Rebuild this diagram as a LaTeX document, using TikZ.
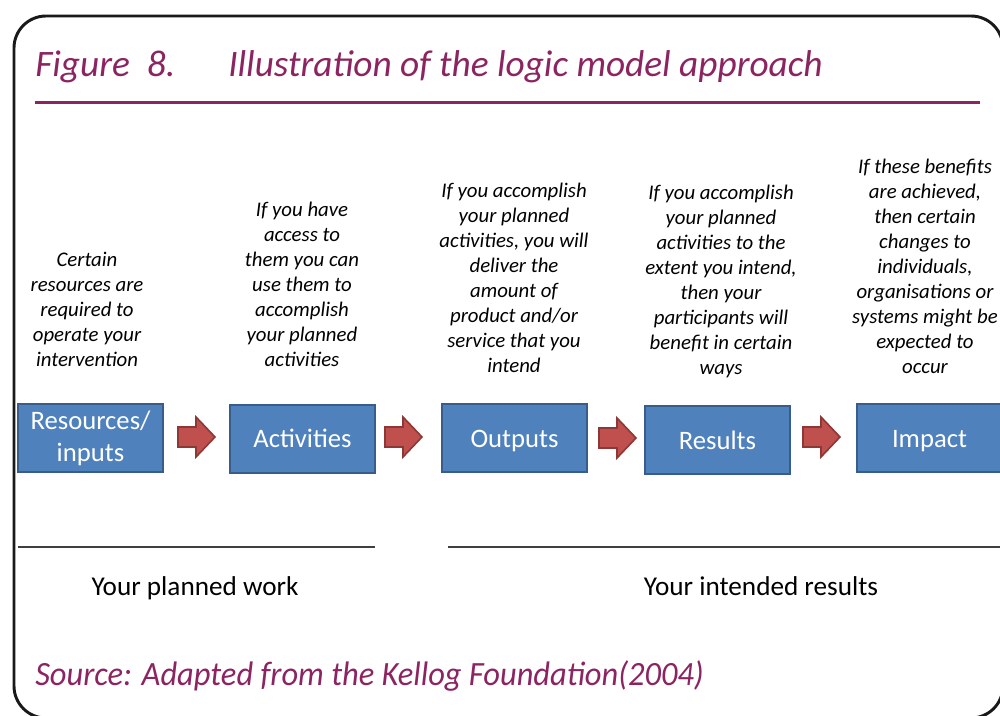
\documentclass[tikz,border=0pt]{standalone}
\usepackage{fontspec}
\usepackage{graphicx}
\setmainfont{Carlito}
\usetikzlibrary{calc}
\definecolor{ecpurple}{HTML}{8C2461}
\definecolor{boxblue}{HTML}{4F81BD}
\definecolor{boxedge}{HTML}{385D8A}
\definecolor{arrred}{HTML}{C0504D}
\definecolor{arredge}{HTML}{8C3836}
\definecolor{rulegray}{HTML}{3F3F3F}
\tikzset{
  stagebox/.style={draw=boxedge, line width=1.5pt, fill=boxblue, text=white,
    minimum width=108.75pt, minimum height=51pt, inner sep=0pt,
    font=\fontsize{20}{24}\selectfont},
  oneline/.style={text height=15pt, text depth=1.5pt},
  desc/.style={align=center, inner sep=0pt, anchor=base,
    font=\fontsize{15.6}{18.75}\selectfont\itshape},
  blockarrow/.style={draw=arredge, line width=1.2pt, fill=arrred, line join=miter},
  grouplabel/.style={anchor=base, inner sep=0pt, font=\fontsize{20.4}{24}\selectfont},
  purpletext/.style={text=ecpurple, anchor=base west, inner sep=0pt},
  divider/.style={draw=rulegray, line width=1.5pt}
}
\begin{document}
\begin{tikzpicture}[x=0.75pt,y=-0.75pt]
\useasboundingbox (0,0) rectangle (1000,716);
\clip (0,0) rectangle (1000,716);
\fill[white] (0,0) rectangle (1000,716);
% frame
\draw[line width=2.2pt, draw=black!90, rounded corners=24pt] (14,16) rectangle (1003,718);
% title
\node[purpletext, font=\fontsize{28}{32}\selectfont\itshape] (fignum) at (35,77) {Figure\ \ 8.};
\node[purpletext, font=\fontsize{28}{32}\selectfont\itshape] (figtitle) at (228,77) {Illustration of the logic model approach};
\coordinate (ruleL) at (35,102.5);
\coordinate (ruleR) at (980,102.5);
\draw[ecpurple, line width=2.3pt] (ruleL) -- (ruleR);
% descriptions (anchored at the baseline of the last line)
\node[desc] (d1) at (87,367) {Certain\\resources are\\required to\\operate your\\intervention};
\node[desc] (d2) at (302,367) {If you have\\access to\\them you can\\use them to\\accomplish\\your planned\\activities};
\node[desc] (d3) at (514,373) {If you accomplish\\your planned\\activities, you will\\deliver the\\amount of\\product and/or\\service that you\\intend};
\node[desc] (d4) at (721,375) {If you accomplish\\your planned\\activities to the\\extent you intend,\\then your\\participants will\\benefit in certain\\ways};
\node[desc] (d5) at (925,374) {If these benefits\\are achieved,\\then certain\\changes to\\individuals,\\organisations or\\systems might be\\expected to\\occur};
% boxes
\node[stagebox, align=center] (b1) at (90.5,438) {Resources/\\inputs};
\node[stagebox, oneline] (b2) at (302.5,439) {Activities};
\node[stagebox, oneline] (b3) at (514.5,438.5) {Outputs};
\node[stagebox, oneline] (b4) at (717.5,440.5) {Results};
\node[stagebox, oneline] (b5) at (929.5,438.5) {Impact};
% arrows
\coordinate (a1) at (178,437);
\coordinate (a2) at (385,437);
\coordinate (a3) at (599,438);
\coordinate (a4) at (803,437);
\foreach \a in {a1,a2,a3,a4}{
  \draw[blockarrow] ([shift={(0,10)}]\a) -- ++(18,0) -- ++(0,10) -- ++(19,-20) -- ++(-19,-20) -- ++(0,10) -- ++(-18,0) -- cycle;
}
% dividers
\coordinate (l1a) at (18,547);
\coordinate (l1b) at (375,547);
\coordinate (l2a) at (448,547);
\coordinate (l2b) at (1000,547);
\draw[divider] (l1a) -- (l1b);
\draw[divider] (l2a) -- (l2b);
\node[grouplabel] (g1) at (195,595) {Your planned work};
\node[grouplabel] (g2) at (761,595) {Your intended results};
% source
\node[purpletext, font=\fontsize{25.5}{30}\selectfont\itshape] (src) at (35,685) {\scalebox{0.955}[1]{Source: Adapted from the Kellog Foundation(2004)}};
\end{tikzpicture}
\end{document}
